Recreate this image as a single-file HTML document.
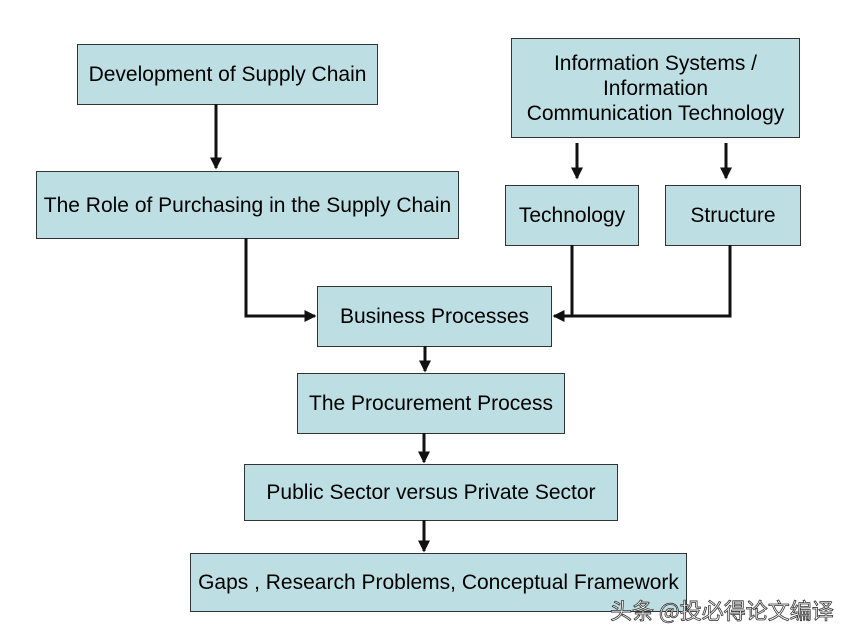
<!DOCTYPE html>
<html><head><meta charset="utf-8"><style>
body{margin:0;width:850px;height:639px;background:#fff;position:relative;overflow:hidden;font-family:"Liberation Sans",Arial,sans-serif;}
.b{position:absolute;box-sizing:border-box;background:#bddfe3;border:1.5px solid #333;display:flex;align-items:center;justify-content:center;text-align:center;font-size:21px;color:#000;line-height:25px;white-space:nowrap;}
svg{position:absolute;left:0;top:0;}
.wm{position:absolute;left:610px;top:594px;font-family:"Noto Sans CJK SC",sans-serif;font-size:22px;color:#fff;-webkit-text-stroke:0.8px #333;white-space:nowrap;}
</style></head><body>
<div class="b" style="left:77px;top:44px;width:301px;height:61px">Development of Supply Chain</div>
<div class="b" style="left:36px;top:171px;width:423px;height:68px">The Role of Purchasing in the Supply Chain</div>
<div class="b" style="left:511px;top:38px;width:289px;height:100px">Information Systems /<br>Information<br>Communication Technology</div>
<div class="b" style="left:505px;top:185px;width:134px;height:61px">Technology</div>
<div class="b" style="left:665px;top:185px;width:136px;height:61px">Structure</div>
<div class="b" style="left:317px;top:286px;width:235px;height:61px">Business Processes</div>
<div class="b" style="left:297px;top:373px;width:268px;height:61px">The Procurement Process</div>
<div class="b" style="left:244px;top:464px;width:374px;height:57px">Public Sector versus Private Sector</div>
<div class="b" style="left:190px;top:553px;width:497px;height:59px">Gaps , Research Problems, Conceptual Framework</div>
<svg width="850" height="639">
<defs><marker id="a" markerWidth="4" markerHeight="4" refX="3.5" refY="2" orient="auto" markerUnits="strokeWidth"><path d="M0,0 L4,2 L0,4 z" fill="#111"/></marker></defs>
<g stroke="#111" stroke-width="3" fill="none">
<path d="M216,104 V168" marker-end="url(#a)"/>
<path d="M246,238 V316 H315" marker-end="url(#a)"/>
<path d="M572,245 V316 H554" marker-end="url(#a)"/>
<path d="M730,245 V316 H572"/>
<path d="M577,143 V178" marker-end="url(#a)"/>
<path d="M726,143 V178" marker-end="url(#a)"/>
<path d="M425,346 V371" marker-end="url(#a)"/>
<path d="M424,433 V462" marker-end="url(#a)"/>
<path d="M424,520 V551" marker-end="url(#a)"/>
</g></svg>
<div class="wm">头条 @投必得论文编译</div>
</body></html>
